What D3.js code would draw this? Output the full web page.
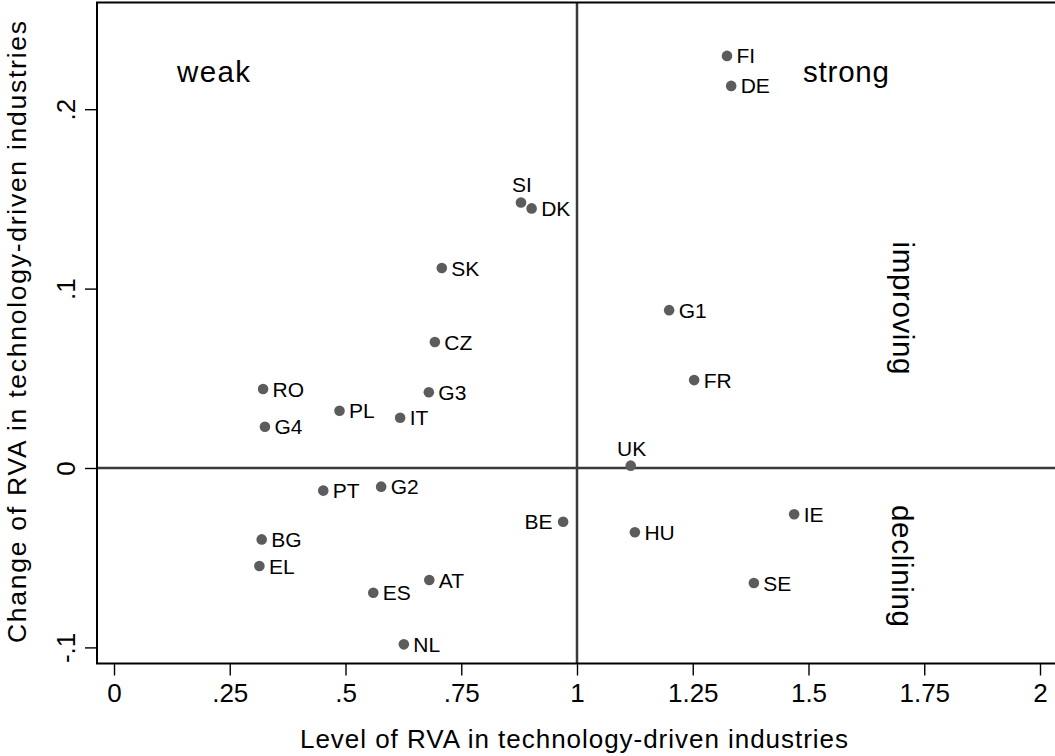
<!DOCTYPE html>
<html><head><meta charset="utf-8">
<script src="https://cdn.jsdelivr.net/npm/d3@7"></script>
<style>body{margin:0;background:#fff}svg{display:block;font-family:"Liberation Sans",Arial,sans-serif}</style>
</head><body>
<svg id="c" width="1055" height="756"></svg>
<script>
const countries = ["FI","DE","SI","DK","SK","CZ","G3","RO","G4","PL","IT","G1","FR","UK","BE","HU","IE","SE","PT","G2","BG","EL","AT","ES","NL"];
const levelRVA  = [1.324,1.333,0.879,0.902,0.708,0.693,0.680,0.322,0.326,0.487,0.618,1.199,1.253,1.116,0.970,1.125,1.469,1.382,0.452,0.577,0.319,0.314,0.681,0.560,0.626];
const changeRVA = [0.2297,0.213,0.148,0.1447,0.1115,0.0702,0.0422,0.044,0.023,0.0319,0.028,0.088,0.049,0.0013,-0.030,-0.0358,-0.0258,-0.0641,-0.0126,-0.0104,-0.0398,-0.0546,-0.0624,-0.0695,-0.0983];
const labelPos  = ["r","r","t","r","r","r","r","r","r","r","r","r","r","t","l","r","r","r","r","r","r","r","r","r","r"];
const xTicks = [0,0.25,0.5,0.75,1,1.25,1.5,1.75,2];
const xTickLabels = ["0",".25",".5",".75","1","1.25","1.5","1.75","2"];
const yTicks = [-0.1,0,0.1,0.2];
const yTickLabels = ["-.1","0",".1",".2"];
const quadrantTexts = ["weak","strong","improving","declining"];
const xTitle = "Level of RVA in technology-driven industries";
const yTitle = "Change of RVA in technology-driven industries";

const svg = d3.select("#c");
const x = d3.scaleLinear().domain([0,2]).range([114,1040]);
const y = d3.scaleLinear().domain([-0.1,0.2]).range([647.4,109.2]);
const L = 97, T = 2.5, B = 663.5, R = 1060;

// reference lines
svg.append("line").attr("x1",x(1)).attr("x2",x(1)).attr("y1",T).attr("y2",B)
  .attr("stroke","#3a3a3a").attr("stroke-width",2.5);
svg.append("line").attr("x1",L).attr("x2",R).attr("y1",y(0)).attr("y2",y(0))
  .attr("stroke","#3a3a3a").attr("stroke-width",2.5);

// frame
svg.append("rect").attr("x",L).attr("y",T).attr("width",R-L).attr("height",B-T)
  .attr("fill","none").attr("stroke","#000").attr("stroke-width",2);

// axes
const xAxis = d3.axisBottom(x).tickValues(xTicks).tickFormat((d,i)=>xTickLabels[i]).tickSize(12).tickPadding(8);
const gx = svg.append("g").attr("transform",`translate(0,${B})`).call(xAxis);
gx.select(".domain").remove();
gx.selectAll("line").attr("stroke","#000").attr("stroke-width",1.4);
gx.selectAll("text").attr("font-size",26).attr("fill","#000").attr("font-family","Liberation Sans, Arial, sans-serif");

const yAxis = d3.axisLeft(y).tickValues(yTicks).tickFormat((d,i)=>yTickLabels[i]).tickSize(12).tickPadding(10);
const gy = svg.append("g").attr("transform",`translate(${L},0)`).call(yAxis);
gy.select(".domain").remove();
gy.selectAll("line").attr("stroke","#000").attr("stroke-width",1.4);
gy.selectAll("text").attr("font-size",26).attr("fill","#000").attr("font-family","Liberation Sans, Arial, sans-serif")
  .attr("x",null).attr("dy",null)
  .attr("text-anchor","middle")
  .attr("transform","translate(-22,0) rotate(-90)");

// titles
svg.append("text").attr("x",574).attr("y",748).attr("text-anchor","middle")
  .attr("font-size",26).attr("textLength",548).attr("lengthAdjust","spacing").text(xTitle);
svg.append("text").attr("transform",`translate(26,332) rotate(-90)`).attr("text-anchor","middle")
  .attr("font-size",26.5).attr("textLength",622).attr("lengthAdjust","spacing").text(yTitle);

// quadrant texts
svg.append("text").attr("x",213.5).attr("y",82).attr("text-anchor","middle").attr("font-size",29.5)
  .attr("textLength",73).attr("lengthAdjust","spacing").text(quadrantTexts[0]);
svg.append("text").attr("x",846).attr("y",82).attr("text-anchor","middle").attr("font-size",29.5)
  .attr("textLength",86).attr("lengthAdjust","spacing").text(quadrantTexts[1]);
svg.append("text").attr("transform","translate(893,308) rotate(90)").attr("text-anchor","middle").attr("font-size",29.5)
  .attr("textLength",133).attr("lengthAdjust","spacing").text(quadrantTexts[2]);
svg.append("text").attr("transform","translate(892,566) rotate(90)").attr("text-anchor","middle").attr("font-size",29.5)
  .attr("textLength",122).attr("lengthAdjust","spacing").text(quadrantTexts[3]);

// points
const data = countries.map((c,i)=>({c, x:levelRVA[i], y:changeRVA[i], p:labelPos[i]}));
svg.append("g").selectAll("circle").data(data).join("circle")
  .attr("cx",d=>x(d.x)).attr("cy",d=>y(d.y)).attr("r",5.3).attr("fill","#5c5c5c");
svg.append("g").selectAll("text").data(data).join("text")
  .attr("font-size",21).attr("fill","#000")
  .attr("x",d=>d.p==="r"?x(d.x)+9.5:d.p==="l"?x(d.x)-10.5:x(d.x)+1)
  .attr("y",d=>d.p==="t"?y(d.y)-10:y(d.y))
  .attr("dy",d=>d.p==="t"?0:"0.36em")
  .attr("text-anchor",d=>d.p==="r"?"start":d.p==="l"?"end":"middle")
  .text(d=>d.c);
</script>
</body></html>
